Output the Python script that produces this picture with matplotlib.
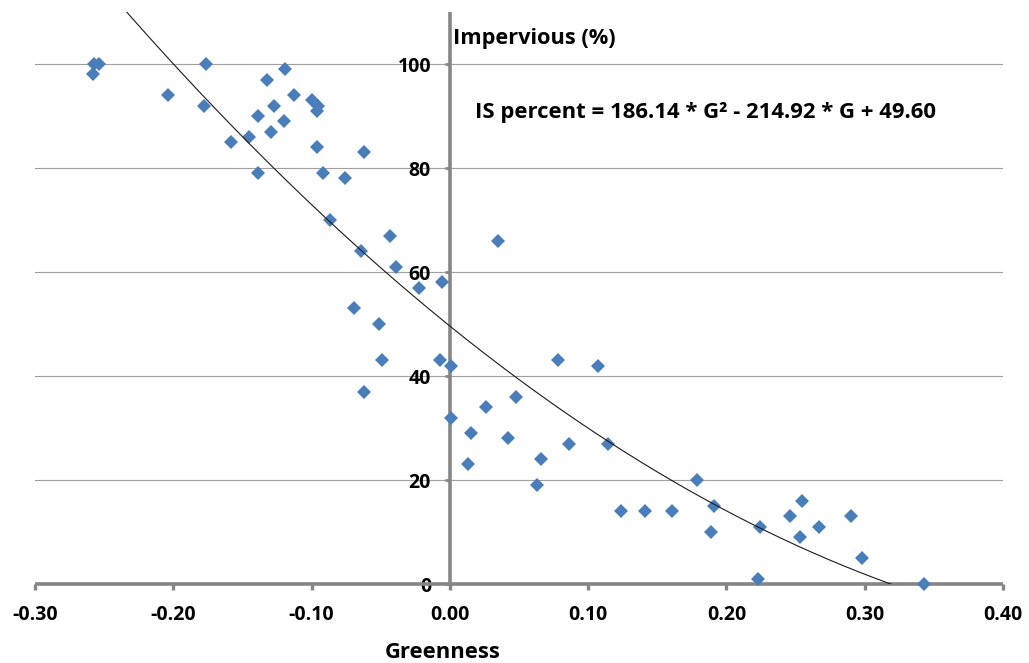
import numpy as np
import matplotlib
matplotlib.use("Agg")
import matplotlib.pyplot as plt

plt.rcParams["font.family"] = ["Open Sans", "DejaVu Sans"]
plt.rcParams["font.weight"] = "bold"

# Greenness index of each sample and its impervious surface share (%)
greenness = [
    -0.258, -0.257, -0.254, -0.204, -0.176, -0.178, -0.119, -0.132, -0.113,
    -0.100, -0.095, -0.096, -0.127, -0.139, -0.120, -0.129, -0.145, -0.158,
    -0.096, -0.062, -0.139, -0.092, -0.076, -0.087, -0.043, -0.064, -0.039,
    -0.022, -0.006, -0.069, -0.051, -0.049, -0.007, 0.001, -0.062, 0.035,
    0.078, 0.107, 0.048, 0.026, 0.001, 0.015, 0.042, 0.086, 0.114,
    0.013, 0.066, 0.063, 0.179, 0.124, 0.141, 0.161, 0.191, 0.189,
    0.224, 0.223, 0.246, 0.255, 0.253, 0.267, 0.290, 0.298, 0.343,
]
impervious = [
    98, 100, 100, 94, 100, 92, 99, 97, 94,
    93, 92, 91, 92, 90, 89, 87, 86, 85,
    84, 83, 79, 79, 78, 70, 67, 64, 61,
    57, 58, 53, 50, 43, 43, 42, 37, 66,
    43, 42, 36, 34, 32, 29, 28, 27, 27,
    23, 24, 19, 20, 14, 14, 14, 15, 10,
    11, 1, 13, 16, 9, 11, 13, 5, 0,
]

# Quadratic trend: IS = a*G^2 + b*G + c
trend_coeffs = [186.14, -214.92, 49.60]

x_ticks = [-0.30, -0.20, -0.10, 0.00, 0.10, 0.20, 0.30, 0.40]
y_ticks = [0, 20, 40, 60, 80, 100]

W, H = 1029, 663
fig = plt.figure(figsize=(W / 100, H / 100), dpi=100)
ax = fig.add_axes([35 / W, 79 / H, 968 / W, 572 / H])
ax.set_xlim(-0.30, 0.40)
ax.set_ylim(0, 110)

axis_grey = "#868686"
for side in ("top", "right"):
    ax.spines[side].set_visible(False)
ax.spines["left"].set_position(("data", 0))
for side in ("left", "bottom"):
    ax.spines[side].set_color(axis_grey)
    ax.spines[side].set_linewidth(2.6)
    ax.spines[side].set_capstyle("butt")

ax.set_xticks(x_ticks)
ax.set_xticklabels([f"{v:.2f}" for v in x_ticks])
ax.set_yticks(y_ticks)
ax.set_yticklabels([str(v) for v in y_ticks])
ax.tick_params(axis="x", direction="out", length=4, width=2.4, color=axis_grey,
               pad=11, labelsize=14)
ax.tick_params(axis="y", direction="out", length=3.5, width=2.0, color=axis_grey,
               pad=10, labelsize=14)
for lbl in ax.get_xticklabels() + ax.get_yticklabels():
    lbl.set_fontweight("bold")

ax.yaxis.grid(True, color="#a0a0a0", linewidth=0.8)
ax.set_axisbelow(True)

ax.plot(greenness, impervious, linestyle="none", marker="D", markersize=7,
        color="#4a7ebb", markeredgewidth=0, zorder=3, clip_on=False)

g = np.linspace(-0.30, 0.40, 500)
ax.plot(g, np.polyval(trend_coeffs, g), color="#1a1a1a", linewidth=0.8, zorder=4)

fig.text(453 / W, 1 - 44 / H, "Impervious (%)", fontsize=15.7, va="baseline",
         ha="left", fontweight="bold")
fig.text(475 / W, 1 - 118 / H, "IS percent = 186.14 * G² - 214.92 * G + 49.60",
         fontsize=15.9, va="baseline", ha="left", fontweight="bold")
fig.text(443 / W, 1 - 653 / H, "Greenness", fontsize=15.8, va="center",
         ha="center", fontweight="bold")

fig.savefig("out.png", dpi=100)
